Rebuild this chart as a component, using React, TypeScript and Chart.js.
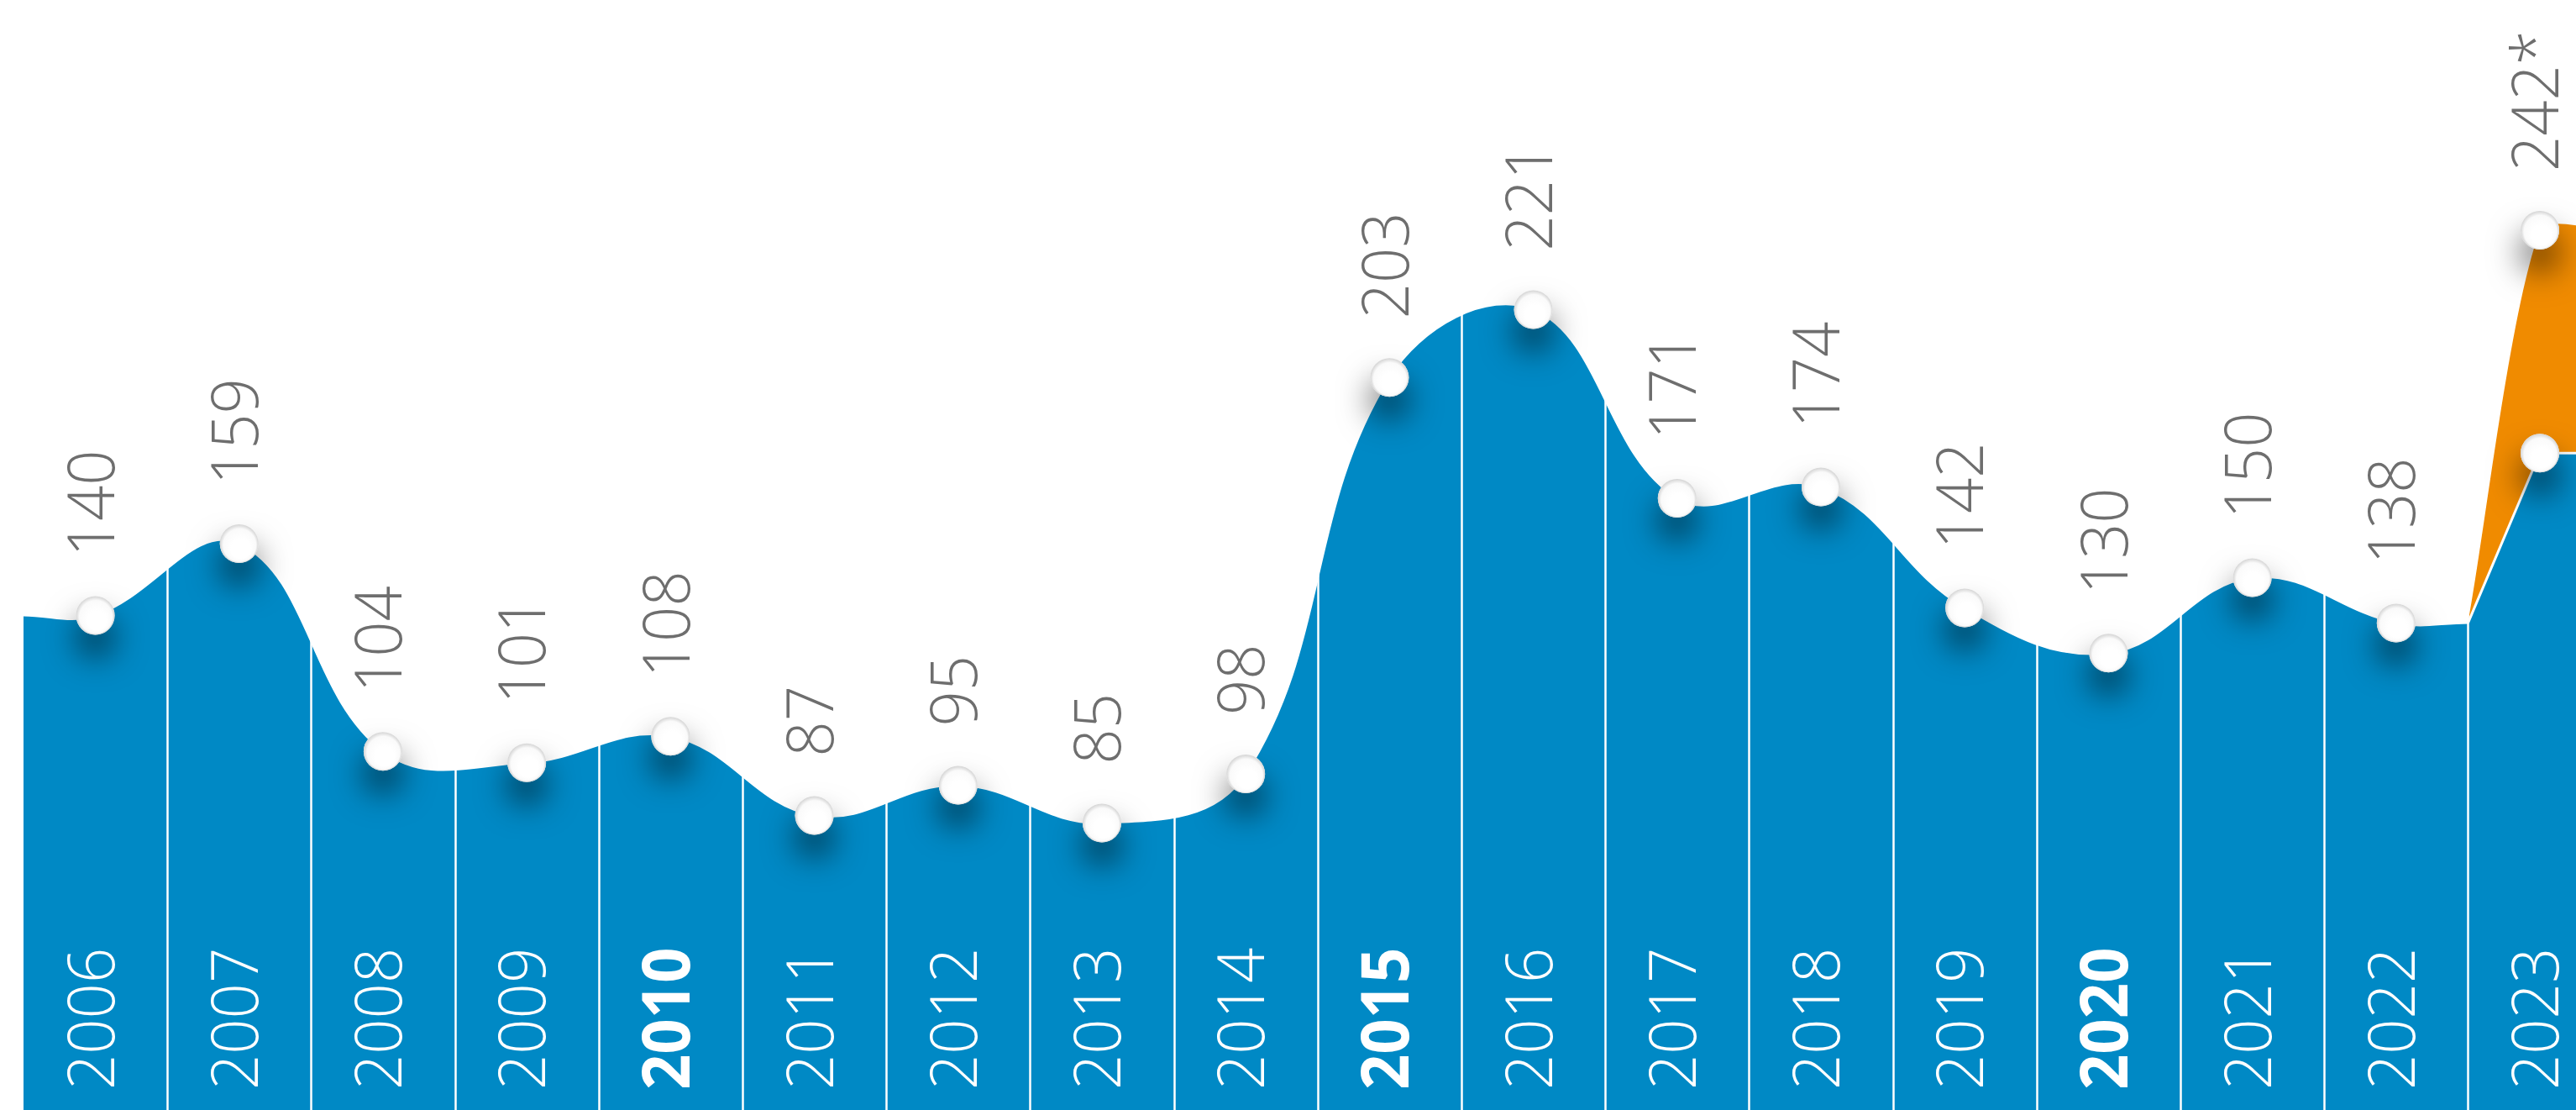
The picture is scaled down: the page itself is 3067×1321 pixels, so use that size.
import React, { useEffect, useRef } from "react";
import { Chart, registerables } from "chart.js";

Chart.register(...registerables);

// ---- data ----
const years = [2006, 2007, 2008, 2009, 2010, 2011, 2012, 2013, 2014, 2015, 2016, 2017, 2018, 2019, 2020, 2021, 2022, 2023];
const values = [140, 159, 104, 101, 108, 87, 95, 85, 98, 203, 221, 171, 174, 142, 130, 150, 138, 183];
const valueLabels = ["140", "159", "104", "101", "108", "87", "95", "85", "98", "203", "221", "171", "174", "142", "130", "150", "138", ""];
const yearLabels = ["2006", "2007", "2008", "2009", "2010", "2011", "2012", "2013", "2014", "2015", "2016", "2017", "2018", "2019", "2020", "2021", "2022", "2023"];
const boldYears = [2010, 2015, 2020];
const forecastYear = 2023;
const forecastValue = 242;
const forecastLabel = "242*";

// ---- style ----
const BLUE = "#0089C5";
const ORANGE = "#F08B00";
const GRAY = "#6E6E6E";
const FONT = '"Open Sans", "Noto Sans", sans-serif';
const FONT_SIZE = 78;
const SQUEEZE = 0.95;
const POINT_R = 23;
const LABEL_GAP = 70;
const YEAR_BASE = 1297;

const n = years.length;
const lastHist = n - 2; // index of 2022
const half = 0.5;

// Main historical curve (2006..2022), extended half a step on each side with the edge values
const mainData = [
  { x: years[0] - half, y: values[0] },
  ...years.slice(0, n - 1).map((yr, i) => ({ x: yr, y: values[i] })),
  { x: years[lastHist] + half, y: values[lastHist] },
];
// 2023 blue segment
const lastBlue = [
  { x: years[lastHist] + half, y: values[lastHist] },
  { x: years[n - 1], y: values[n - 1] },
  { x: years[n - 1] + half, y: values[n - 1] },
];
// 2023 forecast (orange)
const forecastData = [
  { x: years[lastHist] + half, y: values[lastHist] },
  { x: forecastYear, y: forecastValue },
  { x: forecastYear + half, y: forecastValue },
];

function drawRotatedText(ctx: CanvasRenderingContext2D, text: string, x: number, y: number, color: string, weight: number) {
  ctx.save();
  ctx.translate(x, y);
  ctx.rotate(-Math.PI / 2);
  ctx.scale(SQUEEZE, 1);
  ctx.font = `${weight} ${FONT_SIZE}px ${FONT}`;
  ctx.fillStyle = color;
  ctx.textAlign = "left";
  ctx.textBaseline = "middle";
  ctx.fillText(text, 0, 0);
  ctx.restore();
}

function drawPoint(ctx: CanvasRenderingContext2D, x: number, y: number) {
  ctx.save();
  ctx.shadowColor = "rgba(0,0,0,0.6)";
  ctx.shadowBlur = 38;
  ctx.shadowOffsetY = 26;
  ctx.beginPath();
  ctx.arc(x, y, POINT_R, 0, Math.PI * 2);
  ctx.fillStyle = "#ffffff";
  ctx.fill();
  ctx.restore();
  ctx.save();
  const g = ctx.createRadialGradient(x + 2, y + 6, POINT_R * 0.5, x, y, POINT_R);
  g.addColorStop(0, "#ffffff");
  g.addColorStop(0.7, "#fafafa");
  g.addColorStop(1, "#d4d4d4");
  ctx.beginPath();
  ctx.arc(x, y, POINT_R, 0, Math.PI * 2);
  ctx.fillStyle = g;
  ctx.fill();
  ctx.restore();
}

const overlay = {
  id: "overlay",
  afterDatasetsDraw(chart: any) {
    const ctx: CanvasRenderingContext2D = chart.ctx;
    const xs = chart.scales.x;
    const ys = chart.scales.y;

    // white separators, only on top of the filled areas
    ctx.save();
    ctx.globalCompositeOperation = "source-atop";
    ctx.strokeStyle = "#ffffff";
    ctx.lineWidth = 2.5;
    for (let i = 0; i < n - 1; i++) {
      const x = Math.round(xs.getPixelForValue(years[i] + half)) + 0.5;
      ctx.beginPath();
      ctx.moveTo(x, 0);
      ctx.lineTo(x, chart.height);
      ctx.stroke();
    }
    ctx.restore();

    // year labels
    years.forEach((yr, i) => {
      const x = xs.getPixelForValue(yr);
      drawRotatedText(ctx, yearLabels[i], x, YEAR_BASE, "#ffffff", boldYears.includes(yr) ? 700 : 300);
    });

    // points
    years.forEach((yr, i) => {
      drawPoint(ctx, xs.getPixelForValue(yr), ys.getPixelForValue(values[i]));
    });
    drawPoint(ctx, xs.getPixelForValue(forecastYear), ys.getPixelForValue(forecastValue));

    // value labels
    years.forEach((yr, i) => {
      if (!valueLabels[i]) return;
      drawRotatedText(ctx, valueLabels[i], xs.getPixelForValue(yr), ys.getPixelForValue(values[i]) - LABEL_GAP, GRAY, 300);
    });
    drawRotatedText(ctx, forecastLabel, xs.getPixelForValue(forecastYear), ys.getPixelForValue(forecastValue) - LABEL_GAP, GRAY, 300);
  },
};

export default function App() {
  const ref = useRef<HTMLCanvasElement>(null);
  useEffect(() => {
    if (!ref.current) return;
    const chart = new Chart(ref.current, {
      type: "line",
      data: {
        datasets: [
          {
            data: mainData,
            fill: "origin",
            backgroundColor: BLUE,
            borderColor: "#ffffff",
            borderWidth: 2,
            tension: 0.4,
            pointRadius: 0,
          },
          {
            data: lastBlue,
            fill: "origin",
            backgroundColor: BLUE,
            borderColor: "#ffffff",
            borderWidth: 3,
            tension: 0,
            pointRadius: 0,
          },
          {
            data: forecastData,
            fill: "origin",
            backgroundColor: ORANGE,
            borderColor: ORANGE,
            borderWidth: 0,
            tension: 0.25,
            pointRadius: 0,
          },
        ],
      },
      options: {
        animation: false,
        responsive: false,
        devicePixelRatio: 1,
        layout: { padding: 0 },
        plugins: { legend: { display: false }, tooltip: { enabled: false } },
        scales: {
          x: { type: "linear", min: 2005.337, max: 2023.251, display: false },
          y: { type: "linear", min: 9, max: 303, display: false },
        },
      },
      plugins: [overlay],
    } as any);
    return () => chart.destroy();
  }, []);
  return (
    <div style={{ position: "fixed", left: 0, top: 0, width: 3067, height: 1321, background: "#ffffff" }}>
      <canvas ref={ref} width={3067} height={1321} style={{ display: "block", width: 3067, height: 1321 }} />
    </div>
  );
}
